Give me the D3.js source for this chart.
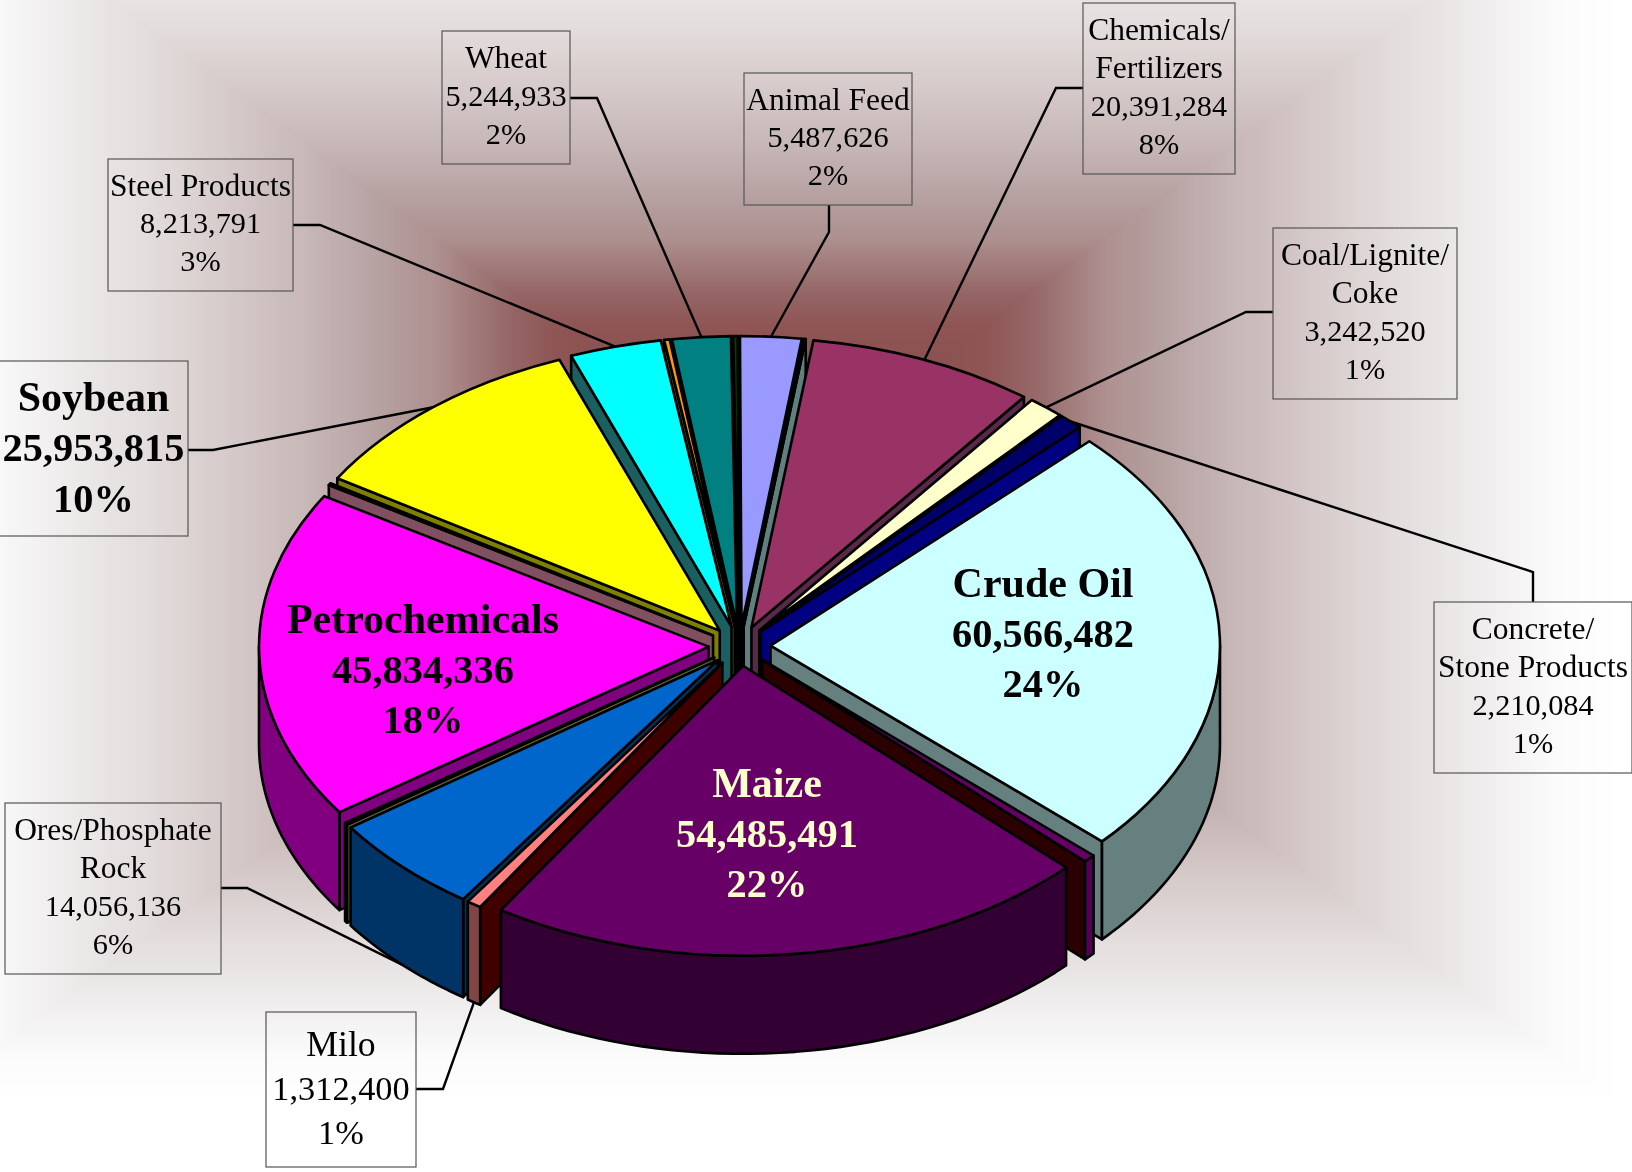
<!DOCTYPE html>
<html>
<head>
    <title>Freight tonnage by commodity</title>
    <script src="https://d3js.org/d3.v7.min.js"></script>
    <style>
        html, body { margin: 0; padding: 0; background: #fff; overflow: hidden; }
        #bg, #chart { position: absolute; left: 0; top: 0; }
        text { font-family: "Liberation Serif", serif; text-anchor: middle; dominant-baseline: central; }
    </style>
</head>
<body>
    <canvas id="bg" width="1632" height="1172"></canvas>
    <svg id="chart" width="1632" height="1172"></svg>

    <script>
        // slices clockwise from the top, "" = thin unlabelled slice
        const categories = ["Animal Feed", "", "Chemicals/|Fertilizers", "Coal/Lignite/|Coke", "Concrete/|Stone Products",
            "Crude Oil", "", "Maize", "Milo", "Ores/Phosphate|Rock", "", "Petrochemicals", "", "Soybean",
            "Steel Products", "", "Wheat", ""];
        const values = [5487626, 150000, 20391284, 3242520, 2210084,
            60566482, 1100000, 54485491, 1312400, 14056136, 300000, 45834336, 300000, 25953815,
            8213791, 500000, 5244933, 400000];

        const topColors = ["#9999ff", "#ccffff", "#993366", "#ffffcc", "#000068", "#ccffff", "#660066", "#660066", "#ff8080",
            "#0066cc", "#999966", "#ff00ff", "#9977cc", "#ffff00", "#00ffff", "#ff9900", "#008080", "#004400"];
        const wallColors = ["#4d4d80", "#668080", "#4d1a33", "#808066", "#000080", "#668080", "#550055", "#330033", "#804545",
            "#003366", "#666633", "#800080", "#805060", "#808000", "#008080", "#804c00", "#004040", "#002200"];
        const sideColors = ["#202040", "#608080", "#5a2848", "#40402a", "#000080", "#668080", "#2a0000", "#1a001a", "#400000",
            "#003355", "#666633", "#800080", "#805060", "#808000", "#1a6060", "#664400", "#004040", "#002200"];

        // label layout, by slice index
        const labelBoxes = {
            0: [744, 73, 912, 205], 2: [1083, 3, 1235, 174], 3: [1273, 228, 1457, 399], 4: [1434, 602, 1632, 773],
            8: [266, 1012, 416, 1167], 9: [5, 803, 221, 974], 13: [-1, 361, 188, 536], 14: [108, 159, 293, 291], 16: [442, 31, 570, 164]
        };
        const leaderStarts = {
            0: [[829, 205], [829, 232]], 2: [[1083, 88], [1056, 88]], 3: [[1273, 312], [1246, 312]], 4: [[1533, 602], [1533, 572]],
            8: [[416, 1089], [443, 1089]], 9: [[221, 888], [247, 888]], 13: [[188, 450], [213, 450]], 14: [[293, 225], [320, 225]], 16: [[570, 98], [597, 98]]
        };
        const insideLabels = { 5: [1043, 634], 7: [767, 834], 11: [423, 670] };
        const labelSizes = { 5: 40, 7: 40, 11: 40, 13: 40, 8: 34 };
        const labelColors = { 7: "#ffffcc" };

        const bgStops = [0, 215, 260, 335, 386, 466, 534, 620, 671, 785, 850];
        const bgColors = ["#804040", "#8f5555", "#956666", "#ae9090", "#b59f9f", "#c8b8b8", "#d5c8c8", "#e3dcdc", "#e9e5e5", "#fbfbfb", "#ffffff"];

        const width = 1632, height = 1172;
        const cx = 739.5, cy = 646, radius = 449.5, tilt = 0.645, depth = 98, explode = 31;
        const startAngle = -0.2 * Math.PI / 180;

        // background: rectangular gradient from a centre point
        const bgScale = d3.scaleLinear().domain(bgStops).range(bgColors).clamp(true);
        const lookup = d3.range(0, 1001).map(function(i) { return d3.rgb(bgScale(i)); });
        const ctx = document.getElementById("bg").getContext("2d");
        const img = ctx.createImageData(width, height);
        for (let y = 0; y < height; y++) {
            for (let x = 0; x < width; x++) {
                const t = Math.min(1000, Math.round(Math.max(Math.abs(x - 770), Math.abs(y - 482) / 0.73)));
                const c = lookup[t], p = (y * width + x) * 4;
                img.data[p] = c.r; img.data[p + 1] = c.g; img.data[p + 2] = c.b; img.data[p + 3] = 255;
            }
        }
        ctx.putImageData(img, 0, 0);

        const svg = d3.select("#chart");
        const total = d3.sum(values);

        const pie = d3.pie().sort(null).startAngle(startAngle).endAngle(startAngle + 2 * Math.PI);
        const slices = pie(values).map(function(d, i) {
            const mid = (d.startAngle + d.endAngle) / 2;
            d.i = i;
            d.mid = mid;
            d.ox = cx + explode * Math.sin(mid);
            d.oy = cy - explode * Math.cos(mid) * tilt;
            return d;
        });

        // flat pie plane to screen
        function px(d, r, a) { return d.ox + r * Math.sin(a); }
        function py(d, r, a) { return d.oy - r * Math.cos(a) * tilt; }

        const topArc = d3.arc().innerRadius(0).outerRadius(radius);
        const faceArea = d3.area()
            .x(function(p) { return p[0]; })
            .y0(function(p) { return p[1]; })
            .y1(function(p) { return p[1] + depth; });

        // leaders go under the pie
        const leaderLine = d3.line();
        Object.keys(leaderStarts).forEach(function(k) {
            const d = slices[+k];
            const front = Math.cos(d.mid) < 0;
            const end = [px(d, radius, d.mid), py(d, radius, d.mid) + (front ? depth : 0)];
            svg.append("path")
                .attr("d", leaderLine(leaderStarts[k].concat([end])))
                .attr("fill", "none")
                .attr("stroke", "#000")
                .attr("stroke-width", 2.4);
        });

        // back slices first
        const drawOrder = slices.slice().sort(function(a, b) { return Math.cos(b.mid) - Math.cos(a.mid); });
        const pieG = svg.append("g")
            .attr("stroke", "#000")
            .attr("stroke-width", 2.6)
            .attr("stroke-linejoin", "round");

        drawOrder.forEach(function(d) {
            const g = pieG.append("g");

            // radial faces that look toward the viewer
            [[d.startAngle, Math.cos(d.startAngle - Math.PI / 2) < 0],
             [d.endAngle, Math.cos(d.endAngle + Math.PI / 2) < 0]].forEach(function(f) {
                if (!f[1]) return;
                g.append("path")
                    .attr("d", faceArea([[d.ox, d.oy], [px(d, radius, f[0]), py(d, radius, f[0])]]))
                    .attr("fill", sideColors[d.i]);
            });

            // outer wall, front half only
            const a0 = Math.max(d.startAngle, Math.PI / 2);
            const a1 = Math.min(d.endAngle, 1.5 * Math.PI);
            if (a1 > a0) {
                const samples = d3.range(0, 41).map(function(j) {
                    const a = a0 + (a1 - a0) * j / 40;
                    return [px(d, radius, a), py(d, radius, a)];
                });
                g.append("path").attr("d", faceArea(samples)).attr("fill", wallColors[d.i]);
            }

            g.append("path")
                .attr("d", topArc(d))
                .attr("transform", "translate(" + d.ox + "," + d.oy + ") scale(1," + tilt + ")")
                .attr("vector-effect", "non-scaling-stroke")
                .attr("fill", topColors[d.i]);
        });

        // labels
        const fmtValue = d3.format(",");
        const fmtPct = d3.format(".0%");
        function labelLines(i) {
            return categories[i].split("|").concat([fmtValue(values[i]), fmtPct(values[i] / total)]);
        }
        function drawLabel(i, x, y) {
            const lines = labelLines(i);
            const nameLines = lines.length - 2;
            const size = labelSizes[i] || 30;
            const big = size === 40;
            const lineHeight = big ? 50.5 : size === 34 ? 44 : 38;
            const lift = big ? 1 : 2;
            lines.forEach(function(line, j) {
                svg.append("text")
                    .attr("x", x)
                    .attr("y", y - lift + (j - (lines.length - 1) / 2) * lineHeight)
                    .attr("font-size", j < nameLines ? size * 1.05 : size * 1.01)
                    .attr("font-weight", big ? "bold" : "normal")
                    .attr("fill", labelColors[i] || "#000")
                    .text(line);
            });
        }
        Object.keys(labelBoxes).forEach(function(k) {
            const b = labelBoxes[k];
            svg.append("rect")
                .attr("x", b[0]).attr("y", b[1])
                .attr("width", b[2] - b[0]).attr("height", b[3] - b[1])
                .attr("fill", "none")
                .attr("stroke", "#555")
                .attr("stroke-width", 1.2);
            drawLabel(+k, (b[0] + b[2]) / 2, (b[1] + b[3]) / 2);
        });
        Object.keys(insideLabels).forEach(function(k) {
            drawLabel(+k, insideLabels[k][0], insideLabels[k][1]);
        });
    </script>
</body>
</html>
